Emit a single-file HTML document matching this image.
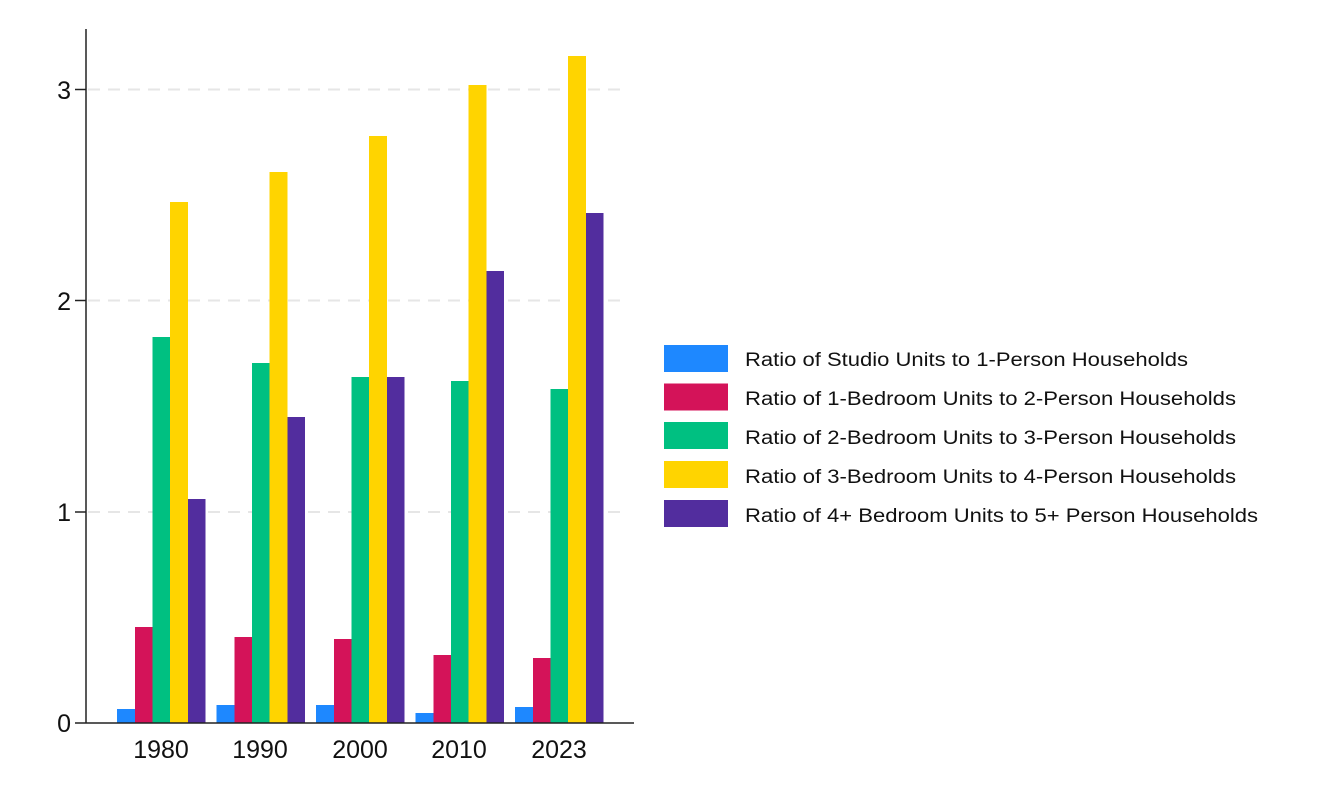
<!DOCTYPE html>
<html><head><meta charset="utf-8"><style>html,body{margin:0;padding:0;background:#fff}</style></head>
<body>
<svg width="1326" height="796" viewBox="0 0 1326 796" xmlns="http://www.w3.org/2000/svg" font-family="Liberation Sans, Arial, sans-serif">
<g stroke="#e6e6e6" stroke-width="2" stroke-dasharray="12,8">
<line x1="88" y1="89.5" x2="628" y2="89.5"/>
<line x1="88" y1="300.5" x2="628" y2="300.5"/>
<line x1="88" y1="512" x2="628" y2="512"/>
</g>
<g>
<rect x="117" y="709" width="18" height="14" fill="#1e88ff"/>
<rect x="135" y="627" width="17.5" height="96" fill="#d41359"/>
<rect x="152.5" y="337" width="17.5" height="386" fill="#00c081"/>
<rect x="170" y="202" width="18" height="521" fill="#ffd400"/>
<rect x="188" y="499" width="17.5" height="224" fill="#522d9e"/>
<rect x="216.5" y="705" width="18" height="18" fill="#1e88ff"/>
<rect x="234.5" y="637" width="17.5" height="86" fill="#d41359"/>
<rect x="252" y="363" width="17.5" height="360" fill="#00c081"/>
<rect x="269.5" y="172" width="18" height="551" fill="#ffd400"/>
<rect x="287.5" y="417" width="17.5" height="306" fill="#522d9e"/>
<rect x="316" y="705" width="18" height="18" fill="#1e88ff"/>
<rect x="334" y="639" width="17.5" height="84" fill="#d41359"/>
<rect x="351.5" y="377" width="17.5" height="346" fill="#00c081"/>
<rect x="369" y="136" width="18" height="587" fill="#ffd400"/>
<rect x="387" y="377" width="17.5" height="346" fill="#522d9e"/>
<rect x="415.5" y="713" width="18" height="10" fill="#1e88ff"/>
<rect x="433.5" y="655" width="17.5" height="68" fill="#d41359"/>
<rect x="451" y="381" width="17.5" height="342" fill="#00c081"/>
<rect x="468.5" y="85" width="18" height="638" fill="#ffd400"/>
<rect x="486.5" y="271" width="17.5" height="452" fill="#522d9e"/>
<rect x="515" y="707" width="18" height="16" fill="#1e88ff"/>
<rect x="533" y="658" width="17.5" height="65" fill="#d41359"/>
<rect x="550.5" y="389" width="17.5" height="334" fill="#00c081"/>
<rect x="568" y="56" width="18" height="667" fill="#ffd400"/>
<rect x="586" y="213" width="17.5" height="510" fill="#522d9e"/>
</g>
<g stroke="#222" stroke-width="1.5">
<line x1="86" y1="29" x2="86" y2="723"/>
<line x1="75" y1="723" x2="634" y2="723"/>
<line x1="75" y1="89.5" x2="86" y2="89.5"/>
<line x1="75" y1="300.5" x2="86" y2="300.5"/>
<line x1="75" y1="512" x2="86" y2="512"/>
</g>
<g font-size="25" fill="#111" text-anchor="end">
<text x="71" y="99">3</text>
<text x="71" y="310">2</text>
<text x="71" y="521">1</text>
<text x="71" y="732">0</text>
</g>
<g font-size="25" fill="#111" text-anchor="middle">
<text x="161" y="758">1980</text>
<text x="260" y="758">1990</text>
<text x="360" y="758">2000</text>
<text x="459" y="758">2010</text>
<text x="559" y="758">2023</text>
</g>
<g>
<rect x="664" y="345" width="64" height="27" fill="#1e88ff"/>
<rect x="664" y="383.5" width="64" height="27" fill="#d41359"/>
<rect x="664" y="422" width="64" height="27" fill="#00c081"/>
<rect x="664" y="461" width="64" height="27" fill="#ffd400"/>
<rect x="664" y="500" width="64" height="27" fill="#522d9e"/>
</g>
<g font-size="19" fill="#111">
<text x="745" y="366" textLength="443" lengthAdjust="spacingAndGlyphs">Ratio of Studio Units to 1-Person Households</text>
<text x="745" y="405" textLength="491" lengthAdjust="spacingAndGlyphs">Ratio of 1-Bedroom Units to 2-Person Households</text>
<text x="745" y="444" textLength="491" lengthAdjust="spacingAndGlyphs">Ratio of 2-Bedroom Units to 3-Person Households</text>
<text x="745" y="483" textLength="491" lengthAdjust="spacingAndGlyphs">Ratio of 3-Bedroom Units to 4-Person Households</text>
<text x="745" y="522" textLength="513" lengthAdjust="spacingAndGlyphs">Ratio of 4+ Bedroom Units to 5+ Person Households</text>
</g>
</svg>
</body></html>
